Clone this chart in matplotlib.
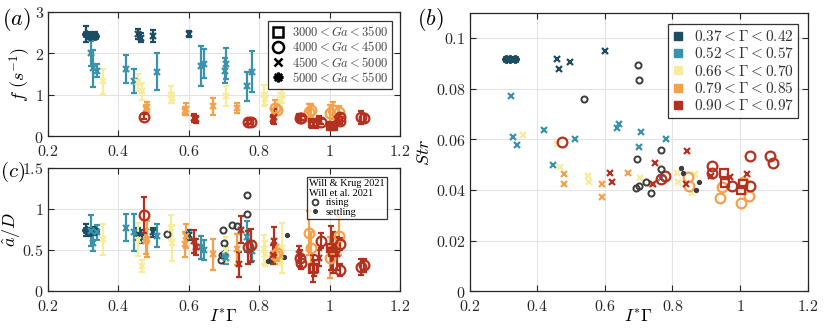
import numpy as np
import matplotlib
matplotlib.use("Agg")
import matplotlib.pyplot as plt
from matplotlib.ticker import FuncFormatter
from matplotlib.lines import Line2D

plt.rcParams['mathtext.fontset'] = 'cm'
plt.rcParams['font.family'] = 'DejaVu Serif'

# colour groups (Gamma ranges)
gam_labels = [r'$0.37 < \Gamma < 0.42$', r'$0.52 < \Gamma < 0.57$', r'$0.66 < \Gamma < 0.70$',
              r'$0.79 < \Gamma < 0.85$', r'$0.90 < \Gamma < 0.97$']
gam_colors = ['#1d4d62', '#3a92ab', '#f6ec9b', '#f5a14b', '#b5311f']
ga_labels = [r'$3000 < Ga < 3500$', r'$4000 < Ga < 4500$', r'$4500 < Ga < 5000$', r'$5000 < Ga < 5500$']

# group 1: 0.37 < Gamma < 0.42
g1_x = [0.308, 0.320, 0.333, 0.457, 0.463, 0.498, 0.601]
g1_m = ['*', '*', '*', 'x', 'x', 'x', 'x']
g1_f = [2.47, 2.43, 2.43, 2.47, 2.38, 2.42, 2.47]
g1_fe = [0.20, 0.08, 0.08, 0.13, 0.10, 0.15, 0.07]
g1_str = [0.0918, 0.0918, 0.0918, 0.0918, 0.0879, 0.0905, 0.095]
g1_a = [0.74, 0.72, 0.73, 0.69, 0.66, 0.71, 0.68]
g1_ae = [0.07, 0.05, 0.05, 0.07, 0.08, 0.06, 0.06]

# group 2: 0.52 < Gamma < 0.57
g2_x = [0.322, 0.328, 0.340, 0.421, 0.445, 0.510, 0.635, 0.643, 0.702, 0.707, 0.766, 0.780]
g2_m = ['x'] * 12
g2_f = [2.0, 1.64, 1.58, 1.62, 1.33, 1.56, 1.70, 1.75, 1.58, 1.75, 1.20, 1.56]
g2_fe = [0.30, 0.45, 0.15, 0.33, 0.30, 0.45, 0.48, 0.35, 0.30, 0.38, 0.35, 0.50]
g2_str = [0.0771, 0.0608, 0.0577, 0.0637, 0.0499, 0.0602, 0.0645, 0.0661, 0.0569, 0.0629, 0.0449, 0.0602]
g2_a = [0.73, 0.585, 0.71, 0.77, 0.71, 0.67, 0.53, 0.50, 0.44, 0.40, 0.66, 0.48]
g2_ae = [0.19, 0.10, 0.09, 0.17, 0.23, 0.14, 0.14, 0.12, 0.10, 0.08, 0.19, 0.12]

# group 3: 0.66 < Gamma < 0.70
g3_x = [0.357, 0.457, 0.466, 0.550, 0.552, 0.705, 0.814, 0.816, 0.858, 0.866]
g3_m = ['x'] * 10
g3_f = [1.32, 1.30, 1.08, 1.00, 0.92, 0.97, 0.98, 0.90, 0.88, 0.99]
g3_fe = [0.30, 0.20, 0.20, 0.20, 0.12, 0.25, 0.25, 0.15, 0.15, 0.18]
g3_str = [0.0618, 0.0583, 0.0492, 0.0455, 0.0432, 0.0447, 0.0469, 0.0432, 0.0390, 0.0462]
g3_a = [0.625, 0.62, 0.30, 0.77, 0.585, 0.50, 0.505, 0.45, 0.43, 0.52]
g3_ae = [0.19, 0.20, 0.07, 0.15, 0.22, 0.15, 0.18, 0.15, 0.12, 0.30]

# group 4: 0.79 < Gamma < 0.85
g4_x = [0.480, 0.478, 0.592, 0.590, 0.669, 0.738, 0.846, 0.850, 0.942, 0.947, 1.002, 1.010, 1.028]
g4_m = ['x', 'x', 'x', 'x', 'x', 'x', 'o', 'o', 'o', 'o', 'o', 'o', 'o']
g4_f = [0.70, 0.66, 0.66, 0.60, 0.72, 0.68, 0.68, 0.62, 0.57, 0.62, 0.55, 0.62, 0.58]
g4_fe = [0.12, 0.10, 0.15, 0.10, 0.20, 0.12, 0.18, 0.12, 0.20, 0.15, 0.20, 0.20, 0.15]
g4_str = [0.0465, 0.0422, 0.0423, 0.0373, 0.0469, 0.0423, 0.0453, 0.0417, 0.0367, 0.0410, 0.0349, 0.0430, 0.0377]
g4_a = [0.625, 0.60, 0.665, 0.565, 0.444, 0.505, 0.44, 0.46, 0.70, 0.52, 0.40, 0.52, 0.67]
g4_ae = [0.22, 0.15, 0.15, 0.15, 0.19, 0.19, 0.12, 0.10, 0.27, 0.20, 0.25, 0.15, 0.24]

# group 5: 0.90 < Gamma < 0.97 (nan = not visible in that panel)
g5_x = [0.474, 0.615, 0.620, 0.743, 0.748, 0.767, 0.777, 0.842, 0.839, 0.914, 0.916, 0.918,
        0.953, 0.955, 0.970, 0.975, 1.004, 1.009, 1.021, 1.029, 1.030, 1.090, 1.097]
g5_m = ['o', 'x', 'x', 'x', 'x', 'o', 'o', 'x', 'x', 'x', 'o', 'o',
        's', 's', 'x', 'o', 's', 's', 'x', 'o', 'o', 'o', 'o']
g5_f = [0.47, 0.43, 0.40, np.nan, np.nan, 0.33, 0.33, 0.47, 0.42, 0.45, 0.44, 0.43,
        0.31, 0.28, 0.38, 0.35, 0.23, 0.25, 0.40, 0.46, 0.36, 0.45, 0.43]
g5_fe = [0.07, 0.10, 0.08, 0, 0, 0.05, 0.05, 0.18, 0.10, 0.08, 0.05, 0.05,
         0.08, 0.06, 0.10, 0.06, 0.05, 0.05, 0.10, 0.07, 0.08, 0.15, 0.10]
g5_str = [0.0588, 0.0469, 0.0432, 0.0423, 0.0508, 0.0443, 0.0456, 0.0553, 0.0423, 0.0455, 0.0495, 0.0469,
          0.0466, 0.0426, 0.0450, 0.0417, 0.0400, 0.0423, 0.0465, 0.0536, 0.0417, 0.0536, 0.0508]
g5_a = [0.92, 0.60, 0.53, 0.32, 0.746, 0.53, 0.556, 0.605, 0.44, 0.45, 0.40, 0.34,
        0.27, 0.28, 0.40, 0.61, 0.52, 0.47, 0.45, 0.57, 0.25, 0.29, 0.31]
g5_ae = [0.22, 0.14, 0.10, 0.15, 0.16, 0.20, 0.20, 0.17, 0.12, 0.10, 0.10, 0.08,
         0.16, 0.10, 0.10, 0.09, 0.27, 0.25, 0.20, 0.07, 0.07, 0.10, 0.08]

# literature: Will & Krug 2021, Will et al. 2021
rise_x = [0.538, 0.698, 0.701, 0.695, 0.766, 0.766, 0.693, 0.700, 0.723, 0.736]
rise_str = [0.0758, 0.0894, 0.0836, 0.0523, 0.0556, 0.0482, 0.0406, 0.0416, 0.0432, 0.0387]
rise_a = [0.686, 0.746, 0.585, 0.44, 1.17, 0.94, 0.38, 0.45, 0.806, 0.786]
settle_x = [0.826, 0.831, 0.879, 0.871]
settle_str = [0.0486, 0.0469, 0.0432, 0.0400]
settle_a = [0.36, 0.37, 0.674, 0.41]

groups = [
    (g1_x, g1_m, g1_f, g1_fe, g1_str, g1_a, g1_ae),
    (g2_x, g2_m, g2_f, g2_fe, g2_str, g2_a, g2_ae),
    (g3_x, g3_m, g3_f, g3_fe, g3_str, g3_a, g3_ae),
    (g4_x, g4_m, g4_f, g4_fe, g4_str, g4_a, g4_ae),
    (g5_x, g5_m, g5_f, g5_fe, g5_str, g5_a, g5_ae),
]

mk_map = {'s': 's', 'o': 'o', 'x': 'x', '*': (8, 2, 0)}
ms_map = {'s': 6, 'o': 7, 'x': 5, '*': 6}

fig = plt.figure(figsize=(8.3, 3.29), dpi=100)
ax_a = fig.add_axes([0.0578, 0.5866, 0.424, 0.377])
ax_c = fig.add_axes([0.0578, 0.1164, 0.424, 0.374])
ax_b = fig.add_axes([0.566, 0.1145, 0.407, 0.847])

fmt = FuncFormatter(lambda v, p: r'$%g$' % round(v, 3))

def style(ax):
    ax.grid(True, color='#e3e3e3', lw=0.8)
    ax.set_axisbelow(True)
    ax.tick_params(direction='in', top=True, right=True, length=4, width=0.8,
                   labelsize=11.5, colors='#262626', pad=3)
    ax.tick_params(axis='x', pad=5)
    for s in ax.spines.values():
        s.set_color('#262626')
        s.set_linewidth(0.9)
    ax.xaxis.set_major_formatter(fmt)
    ax.yaxis.set_major_formatter(fmt)
    ax.set_xlim(0.2, 1.2)
    ax.set_xticks([0.2, 0.4, 0.6, 0.8, 1.0, 1.2])

for ax in [ax_a, ax_b, ax_c]:
    style(ax)

# data
for gi, (xs, ms, fs, fes, strs, as_, aes) in enumerate(groups):
    col = gam_colors[gi]
    for i in range(len(xs)):
        m = ms[i]
        mk = mk_map[m]
        kw = dict(marker=mk, ms=ms_map[m], mfc='none', mec=col, mew=1.6, color=col,
                  ecolor=col, elinewidth=1.6, capsize=2.5, capthick=1.5, ls='none')
        if not np.isnan(fs[i]):
            ax_a.errorbar(xs[i], fs[i], yerr=fes[i], **kw)
        ax_c.errorbar(xs[i], as_[i], yerr=aes[i], **kw)
        ax_b.plot(xs[i], strs[i], marker=mk, ms=ms_map[m], mfc='none', mec=col, mew=1.6, ls='none')

for ax, yr, ys in [(ax_b, rise_str, settle_str), (ax_c, rise_a, settle_a)]:
    ax.plot(rise_x, yr, 'o', ms=4.4, mfc='none', mec='#3c3c3c', mew=1.4)
    ax.plot(settle_x, ys, 'o', ms=2.8, mfc='#3c3c3c', mec='#3c3c3c')

ax_a.set_ylim(0, 3)
ax_a.set_yticks([0, 1, 2, 3])
ax_a.set_ylabel(r'$f\ (s^{-1})$', fontsize=13)
ax_a.yaxis.set_label_coords(-0.043, 0.5)

ax_c.set_ylim(0, 1.5)
ax_c.set_yticks([0, 0.5, 1, 1.5])
ax_c.set_ylabel(r'$\hat{a}/D$', fontsize=13)
ax_c.yaxis.set_label_coords(-0.07, 0.5)
ax_c.set_xlabel(r'$I^{*}\Gamma$', fontsize=12.5, labelpad=-4)

ax_b.set_ylim(0, 0.11)
ax_b.set_yticks([0, 0.02, 0.04, 0.06, 0.08, 0.1])
ax_b.set_ylabel(r'$Str$', fontsize=13)
ax_b.yaxis.set_label_coords(-0.11, 0.5)
ax_b.set_xlabel(r'$I^{*}\Gamma$', fontsize=12.5, labelpad=-4)

fig.text(0.002, 0.925, r'$(a)$', fontsize=16)
fig.text(0.0, 0.462, r'$(c)$', fontsize=15)
fig.text(0.502, 0.925, r'$(b)$', fontsize=16)

# legend (a): Ga markers
h_ga = [Line2D([], [], marker=mk_map[k], ls='none', mfc='none', mec='k', mew=1.8, ms=ms_map[k] + 1)
        for k in ['s', 'o', 'x', '*']]
leg = ax_a.legend(h_ga, ga_labels, loc='upper right', fontsize=9, frameon=True, fancybox=False,
                  edgecolor='k', borderpad=0.3, labelspacing=0.1, handlelength=1.0,
                  handletextpad=0.6, bbox_to_anchor=(0.995, 0.975))
leg.get_frame().set_linewidth(0.9)
for t in leg.get_texts():
    t.set_color('#444444')

# legend (b): Gamma colours
h_gam = [Line2D([], [], marker='s', ls='none', mfc=c, mec=c, ms=6) for c in gam_colors]
leg = ax_b.legend(h_gam, gam_labels, loc='upper right', fontsize=11, frameon=True, fancybox=False,
                  edgecolor='k', borderpad=0.3, labelspacing=0.15, handlelength=0.8,
                  handletextpad=0.6, bbox_to_anchor=(0.995, 0.985))
leg.get_frame().set_linewidth(0.9)
for t in leg.get_texts():
    t.set_color('#333333')

# legend (c): literature
h_lit = [Line2D([], [], marker='o', ls='none', mfc='none', mec='#3c3c3c', mew=1.3, ms=4.2),
         Line2D([], [], marker='o', ls='none', mfc='#3c3c3c', mec='#3c3c3c', ms=2.6)]
lit_labels = ['rising', 'settling']
leg = ax_c.legend(h_lit, lit_labels, loc='upper right', frameon=True, fancybox=False,
                  prop={'family': 'Liberation Serif', 'size': 7.5},
                  edgecolor='k', borderpad=0.2, labelspacing=0.0, handlelength=1.2,
                  handletextpad=0.4, bbox_to_anchor=(0.977, 0.97),
                  title='Will & Krug 2021\nWill et al. 2021', alignment='left')
leg.get_title().set_family('Liberation Serif')
leg.get_title().set_fontsize(7.5)
leg.get_title().set_linespacing(1.2)
leg.get_frame().set_linewidth(0.9)

fig.savefig('out.png', dpi=100)
